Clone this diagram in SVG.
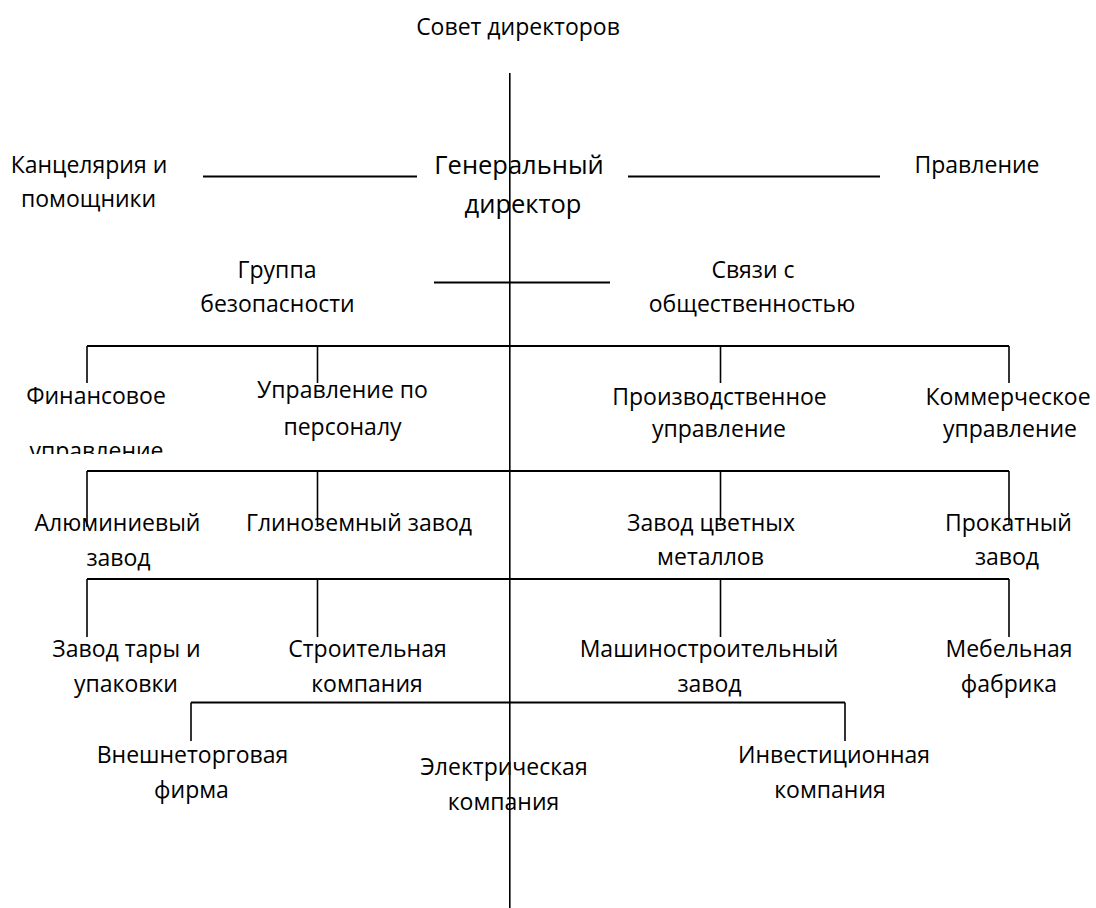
<svg xmlns="http://www.w3.org/2000/svg" width="1096" height="908" viewBox="0 0 1096 908">
<style>
text{font-family:"Open Sans","Noto Sans","Liberation Sans",sans-serif;font-size:23px;fill:#000;text-anchor:middle}
.big{font-size:25.5px}
.h{stroke:#000;stroke-width:2;fill:none}
.v{stroke:#000;stroke-width:1.6;fill:none}
</style>
<defs>
<clipPath id="clipFin"><rect x="0" y="380" width="300" height="74"/></clipPath>
</defs>
<rect width="1096" height="908" fill="#fff"/>
<g id="connectors">
<line class="v" x1="509.8" y1="73" x2="509.8" y2="908"/>
<line class="h" x1="203" y1="176.5" x2="417" y2="176.5"/>
<line class="h" x1="628" y1="176.5" x2="880" y2="176.5"/>
<line class="h" x1="434" y1="282.5" x2="610" y2="282.5"/>
<line class="h" x1="87" y1="346" x2="1009" y2="346"/>
<line class="v" x1="87" y1="346" x2="87" y2="383"/>
<line class="v" x1="317.5" y1="346" x2="317.5" y2="383"/>
<line class="v" x1="720.5" y1="346" x2="720.5" y2="383"/>
<line class="v" x1="1009" y1="346" x2="1009" y2="383"/>
<line class="h" x1="87" y1="471" x2="1009" y2="471"/>
<line class="v" x1="87" y1="471" x2="87" y2="527"/>
<line class="v" x1="317.5" y1="471" x2="317.5" y2="527"/>
<line class="v" x1="720.5" y1="471" x2="720.5" y2="521"/>
<line class="v" x1="1009" y1="471" x2="1009" y2="524"/>
<line class="h" x1="87" y1="579" x2="1009" y2="579"/>
<line class="v" x1="87" y1="579" x2="87" y2="637"/>
<line class="v" x1="317.5" y1="579" x2="317.5" y2="637"/>
<line class="v" x1="720.5" y1="579" x2="720.5" y2="637"/>
<line class="v" x1="1009" y1="579" x2="1009" y2="637"/>
<line class="h" x1="191" y1="702.5" x2="845" y2="702.5"/>
<line class="v" x1="191" y1="702.5" x2="191" y2="741"/>
<line class="v" x1="845" y1="702.5" x2="845" y2="741"/>
</g>
<g id="board"><text x="518" y="35">Совет директоров</text></g>
<g id="office"><text x="89" y="173">Канцелярия и</text><text x="88.5" y="207">помощники</text></g>
<g id="ceo"><text class="big" x="519" y="174">Генеральный</text><text class="big" x="523" y="213">директор</text></g>
<g id="management"><text x="977" y="173">Правление</text></g>
<g id="security"><text x="277" y="278">Группа</text><text x="277.5" y="312">безопасности</text></g>
<g id="pr"><text x="753" y="278">Связи с</text><text x="752" y="312">общественностью</text></g>
<g id="finance"><text x="96" y="404">Финансовое</text><text x="96.5" y="459" clip-path="url(#clipFin)">управление</text></g>
<g id="hr"><text x="342.5" y="398">Управление по</text><text x="342.5" y="435">персоналу</text></g>
<g id="production"><text x="719.5" y="405">Производственное</text><text x="719" y="437">управление</text></g>
<g id="commercial"><text x="1008" y="405">Коммерческое</text><text x="1010" y="437">управление</text></g>
<g id="aluminium"><text x="117.5" y="531">Алюминиевый</text><text x="118.5" y="566">завод</text></g>
<g id="alumina"><text x="359" y="531">Глиноземный завод</text></g>
<g id="nonferrous"><text x="711" y="531">Завод цветных</text><text x="710.5" y="565">металлов</text></g>
<g id="rolling"><text x="1008.5" y="531">Прокатный</text><text x="1007" y="565">завод</text></g>
<g id="packaging"><text x="126.5" y="657">Завод тары и</text><text x="126" y="692">упаковки</text></g>
<g id="construction"><text x="367.5" y="657">Строительная</text><text x="367" y="692">компания</text></g>
<g id="machinery"><text x="709" y="657">Машиностроительный</text><text x="709.5" y="692">завод</text></g>
<g id="furniture"><text x="1009" y="657">Мебельная</text><text x="1009" y="692">фабрика</text></g>
<g id="foreigntrade"><text x="192.5" y="763">Внешнеторговая</text><text x="191.5" y="798">фирма</text></g>
<g id="electric"><text x="504" y="775">Электрическая</text><text x="503.5" y="810">компания</text></g>
<g id="investment"><text x="834" y="763">Инвестиционная</text><text x="830" y="798">компания</text></g>
</svg>
